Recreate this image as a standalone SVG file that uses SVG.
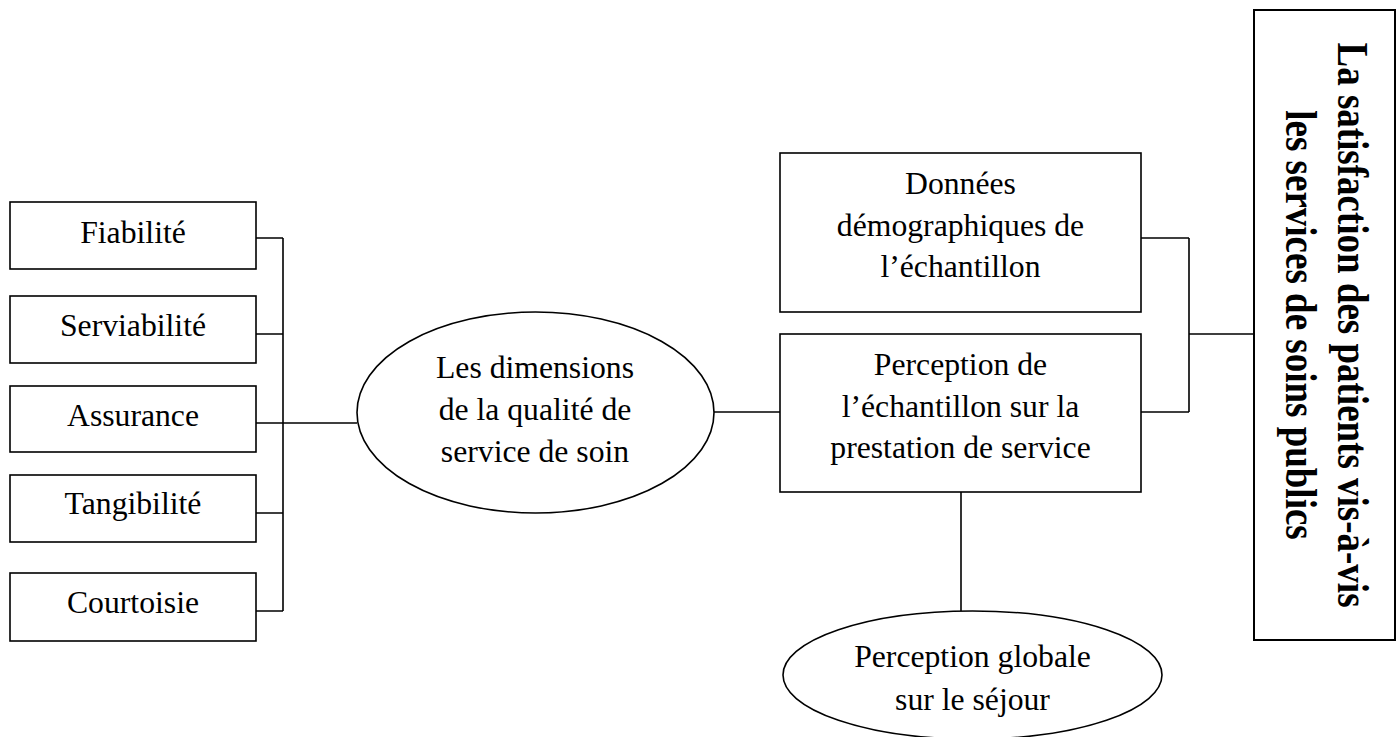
<svg xmlns="http://www.w3.org/2000/svg" width="1397" height="737" viewBox="0 0 1397 737">
<style>
.box{fill:#fff;stroke:#000;stroke-width:1.6}
.tall{fill:#fff;stroke:#000;stroke-width:2}
.ln{fill:none;stroke:#000;stroke-width:1.6}
.t{font-family:"Liberation Serif","Times New Roman",serif;font-size:31.7px;fill:#000;text-anchor:middle}
.tb{font-family:"Liberation Serif","Times New Roman",serif;font-size:37px;font-weight:bold;fill:#000;text-anchor:middle}
</style>
<rect width="1397" height="737" fill="#fff"/>
<g id="connectors">
<path class="ln" d="M256 238H283M256 334H283M256 513H283M256 611H283M283 238V611M256 423H357"/>
<path class="ln" d="M714 412H780"/>
<path class="ln" d="M1141 238H1189M1141 412H1189M1189 238V412M1189 334H1254"/>
<path class="ln" d="M961 492V611"/>
</g>
<g id="fiabilite">
<rect class="box" x="10" y="202" width="246" height="67"/>
<text class="t" x="133" y="243">Fiabilité</text>
</g>
<g id="serviabilite">
<rect class="box" x="10" y="296" width="246" height="67"/>
<text class="t" x="133" y="336">Serviabilité</text>
</g>
<g id="assurance">
<rect class="box" x="10" y="386" width="246" height="66"/>
<text class="t" x="133" y="426">Assurance</text>
</g>
<g id="tangibilite">
<rect class="box" x="10" y="475" width="246" height="67"/>
<text class="t" x="133" y="514">Tangibilité</text>
</g>
<g id="courtoisie">
<rect class="box" x="10" y="573" width="246" height="68"/>
<text class="t" x="133" y="613">Courtoisie</text>
</g>
<g id="dimensions">
<ellipse class="box" cx="535.5" cy="412.5" rx="178.5" ry="100.5"/>
<text class="t"><tspan x="535" y="378">Les dimensions</tspan><tspan x="535" y="420">de la qualité de</tspan><tspan x="535" y="462">service de soin</tspan></text>
</g>
<g id="demographie">
<rect class="box" x="780" y="153" width="361" height="159"/>
<text class="t"><tspan x="960.5" y="194">Données</tspan><tspan x="960.5" y="236">démographiques de</tspan><tspan x="960.5" y="277">l’échantillon</tspan></text>
</g>
<g id="perception">
<rect class="box" x="780" y="334" width="361" height="158"/>
<text class="t"><tspan x="960.5" y="375">Perception de</tspan><tspan x="960.5" y="417">l’échantillon sur la</tspan><tspan x="960.5" y="458">prestation de service</tspan></text>
</g>
<g id="perception-globale">
<ellipse class="box" cx="972.5" cy="675" rx="189.5" ry="64"/>
<text class="t"><tspan x="972.5" y="667">Perception globale</tspan><tspan x="972.5" y="710">sur le séjour</tspan></text>
</g>
<g id="satisfaction">
<rect class="tall" x="1254" y="10" width="141" height="630"/>
<text class="tb" transform="translate(1338 325) scale(1.17 1) rotate(90)"><tspan x="0" y="0">La satisfaction des patients vis-à-vis</tspan><tspan x="0" y="44.5">les services de soins publics</tspan></text>
</g>
</svg>
